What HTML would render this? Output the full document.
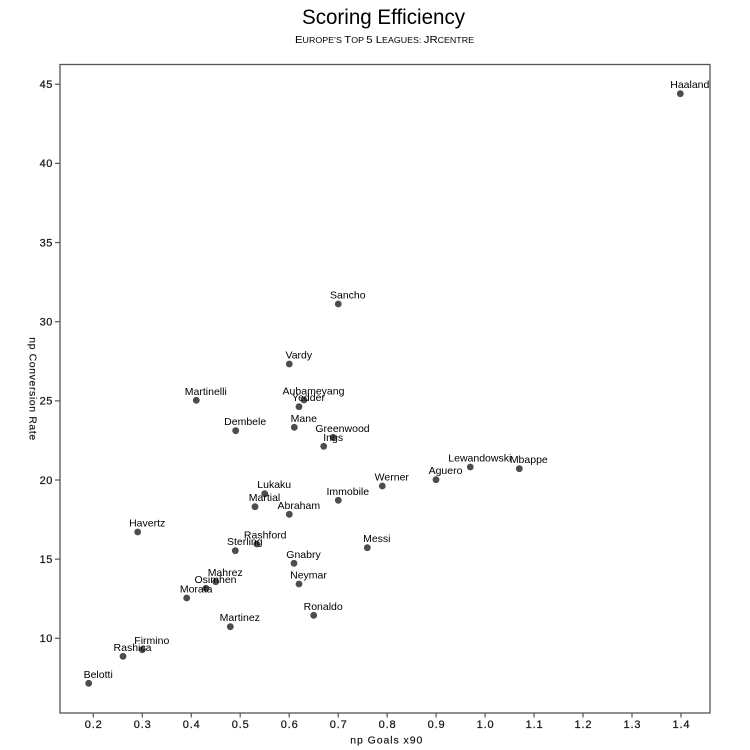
<!DOCTYPE html>
<html><head><meta charset="utf-8"><style>
html,body{margin:0;padding:0;background:#fff;}
svg{display:block;font-family:"Liberation Sans",Arial,sans-serif;}
</style></head><body>
<svg width="750" height="750" viewBox="0 0 750 750" xmlns="http://www.w3.org/2000/svg">
<rect width="750" height="750" fill="#fff"/>
<!-- Titles -->
<text x="383.5" y="24" font-size="21" text-anchor="middle" fill="#000" textLength="163" lengthAdjust="spacingAndGlyphs">Scoring Efficiency</text>
<text x="384.5" y="43" text-anchor="middle" fill="#000" textLength="179" lengthAdjust="spacingAndGlyphs"><tspan font-size="10.5">E</tspan><tspan font-size="8.2">UROPE’S </tspan><tspan font-size="10.5">T</tspan><tspan font-size="8.2">OP </tspan><tspan font-size="10.5">5 L</tspan><tspan font-size="8.2">EAGUES: </tspan><tspan font-size="10.5">JR</tspan><tspan font-size="8.2">CENTRE</tspan></text>
<!-- Frame -->
<rect x="60" y="64.5" width="650" height="648.5" fill="none" stroke="#555" stroke-width="1.3"/>
<!-- Y ticks -->
<g stroke="#555" stroke-width="1.2">
<line x1="55" y1="638.3" x2="60" y2="638.3"/>
<line x1="55" y1="559.15" x2="60" y2="559.15"/>
<line x1="55" y1="480" x2="60" y2="480"/>
<line x1="55" y1="400.85" x2="60" y2="400.85"/>
<line x1="55" y1="321.7" x2="60" y2="321.7"/>
<line x1="55" y1="242.55" x2="60" y2="242.55"/>
<line x1="55" y1="163.4" x2="60" y2="163.4"/>
<line x1="55" y1="84.25" x2="60" y2="84.25"/>
</g>
<g font-size="11" fill="#1a1a1a" stroke="#1a1a1a" stroke-width="0.25" text-anchor="end" letter-spacing="0.6">
<text x="53" y="642">10</text>
<text x="53" y="563">15</text>
<text x="53" y="484">20</text>
<text x="53" y="404.7">25</text>
<text x="53" y="325.5">30</text>
<text x="53" y="246.4">35</text>
<text x="53" y="167.2">40</text>
<text x="53" y="88.1">45</text>
</g>
<!-- X ticks -->
<g stroke="#555" stroke-width="1.2">
<line x1="93.3" y1="713" x2="93.3" y2="717.5"/>
<line x1="142.3" y1="713" x2="142.3" y2="717.5"/>
<line x1="191.25" y1="713" x2="191.25" y2="717.5"/>
<line x1="240.2" y1="713" x2="240.2" y2="717.5"/>
<line x1="289.2" y1="713" x2="289.2" y2="717.5"/>
<line x1="338.2" y1="713" x2="338.2" y2="717.5"/>
<line x1="387.15" y1="713" x2="387.15" y2="717.5"/>
<line x1="436.1" y1="713" x2="436.1" y2="717.5"/>
<line x1="485.1" y1="713" x2="485.1" y2="717.5"/>
<line x1="534.1" y1="713" x2="534.1" y2="717.5"/>
<line x1="583.05" y1="713" x2="583.05" y2="717.5"/>
<line x1="632" y1="713" x2="632" y2="717.5"/>
<line x1="681" y1="713" x2="681" y2="717.5"/>
</g>
<g font-size="11" fill="#1a1a1a" stroke="#1a1a1a" stroke-width="0.25" text-anchor="middle">
<text x="93.3" y="728" textLength="17" lengthAdjust="spacing">0.2</text>
<text x="142.3" y="728" textLength="17" lengthAdjust="spacing">0.3</text>
<text x="191.25" y="728" textLength="17" lengthAdjust="spacing">0.4</text>
<text x="240.2" y="728" textLength="17" lengthAdjust="spacing">0.5</text>
<text x="289.2" y="728" textLength="17" lengthAdjust="spacing">0.6</text>
<text x="338.2" y="728" textLength="17" lengthAdjust="spacing">0.7</text>
<text x="387.15" y="728" textLength="17" lengthAdjust="spacing">0.8</text>
<text x="436.1" y="728" textLength="17" lengthAdjust="spacing">0.9</text>
<text x="485.1" y="728" textLength="17" lengthAdjust="spacing">1.0</text>
<text x="534.1" y="728" textLength="17" lengthAdjust="spacing">1.1</text>
<text x="583.05" y="728" textLength="17" lengthAdjust="spacing">1.2</text>
<text x="632" y="728" textLength="17" lengthAdjust="spacing">1.3</text>
<text x="681" y="728" textLength="17" lengthAdjust="spacing">1.4</text>
</g>
<!-- Axis titles -->
<text x="386.3" y="743.5" font-size="10.5" fill="#111" stroke="#111" stroke-width="0.15" text-anchor="middle" textLength="72" lengthAdjust="spacing">np Goals x90</text>
<text transform="translate(29.5,388.7) rotate(90)" x="0" y="0" font-size="10.5" fill="#111" stroke="#111" stroke-width="0.15" text-anchor="middle" textLength="103" lengthAdjust="spacing">np Conversion Rate</text>
<!-- Points -->
<g fill="#4d4d4d">
<circle cx="680.3" cy="93.7" r="3.4"/>
<circle cx="338.3" cy="304" r="3.4"/>
<circle cx="289.3" cy="364" r="3.4"/>
<circle cx="196.3" cy="400.3" r="3.4"/>
<circle cx="304" cy="400" r="3.4"/>
<circle cx="299" cy="406.7" r="3.4"/>
<circle cx="235.7" cy="430.7" r="3.4"/>
<circle cx="294.3" cy="427.3" r="3.4"/>
<circle cx="333" cy="437.3" r="3.4"/>
<circle cx="323.7" cy="446.3" r="3.4"/>
<circle cx="264.7" cy="493.7" r="3.4"/>
<circle cx="255" cy="506.7" r="3.4"/>
<circle cx="289.3" cy="514.3" r="3.4"/>
<circle cx="338.3" cy="500.3" r="3.4"/>
<circle cx="382.3" cy="486" r="3.4"/>
<circle cx="137.7" cy="532" r="3.4"/>
<circle cx="256.7" cy="544" r="3.4"/>
<circle cx="235.3" cy="550.7" r="3.4"/>
<circle cx="367.3" cy="547.7" r="3.4"/>
<circle cx="294" cy="563.3" r="3.4"/>
<circle cx="215.7" cy="581.7" r="3.4"/>
<circle cx="206" cy="588.3" r="3.4"/>
<circle cx="186.7" cy="598" r="3.4"/>
<circle cx="299" cy="584" r="3.4"/>
<circle cx="313.7" cy="615.3" r="3.4"/>
<circle cx="230.3" cy="626.7" r="3.4"/>
<circle cx="470.3" cy="467" r="3.4"/>
<circle cx="519.3" cy="468.7" r="3.4"/>
<circle cx="436" cy="479.7" r="3.4"/>
<circle cx="123" cy="656.3" r="3.4"/>
<circle cx="142.3" cy="649.7" r="3.4"/>
<circle cx="88.7" cy="683.3" r="3.4"/>
</g>
<!-- Labels -->
<g font-size="10.5" fill="#000" text-anchor="middle">
<text x="689.8" y="88.2">Haaland</text>
<text x="347.8" y="298.5">Sancho</text>
<text x="298.8" y="358.5">Vardy</text>
<text x="205.8" y="394.8">Martinelli</text>
<text x="313.5" y="394.5">Aubameyang</text>
<text x="308.5" y="401.2">Yedder</text>
<text x="245.2" y="425.2">Dembele</text>
<text x="303.8" y="421.8">Mane</text>
<text x="342.5" y="431.8">Greenwood</text>
<text x="333.2" y="440.8">Ings</text>
<text x="274.2" y="488.2">Lukaku</text>
<text x="264.5" y="501.2">Martial</text>
<text x="298.8" y="508.8">Abraham</text>
<text x="347.8" y="494.8">Immobile</text>
<text x="391.8" y="480.5">Werner</text>
<text x="147.2" y="526.5">Havertz</text>
<text x="265.2" y="538.5">Rashford</text>
<text x="244.8" y="545.2">Sterling</text>
<text x="376.8" y="542.2">Messi</text>
<text x="303.5" y="557.8">Gnabry</text>
<text x="225.2" y="576.2">Mahrez</text>
<text x="215.5" y="582.8">Osimhen</text>
<text x="196.2" y="592.5">Morata</text>
<text x="308.5" y="578.5">Neymar</text>
<text x="323.2" y="609.8">Ronaldo</text>
<text x="239.8" y="621.2">Martinez</text>
<text x="479.8" y="461.5">Lewandowski</text>
<text x="528.8" y="463.2">Mbappe</text>
<text x="445.5" y="474.2">Aguero</text>
<text x="132.5" y="650.8">Rashica</text>
<text x="151.8" y="644.2">Firmino</text>
<text x="98.2" y="677.8">Belotti</text>
</g>
</svg>
</body></html>
